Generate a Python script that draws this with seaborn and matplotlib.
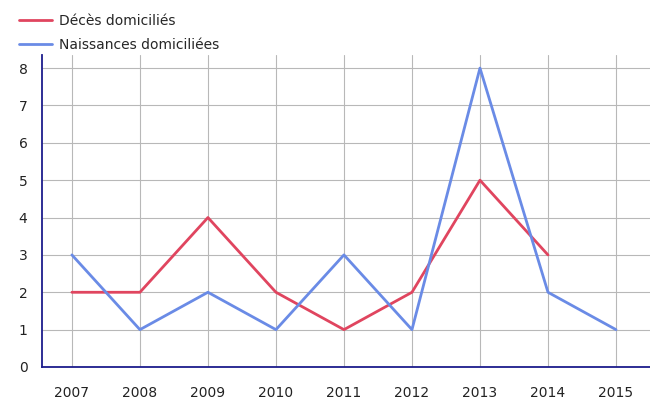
import numpy as np
import pandas as pd
import matplotlib
matplotlib.use('Agg')
import matplotlib.pyplot as plt
import seaborn as sns

# Data
years_deces = [2007, 2008, 2009, 2010, 2011, 2012, 2013, 2014]
deces = [2, 2, 4, 2, 1, 2, 5, 3]
years_naiss = [2007, 2008, 2009, 2010, 2011, 2012, 2013, 2014, 2015]
naissances = [3, 1, 2, 1, 3, 1, 8, 2, 1]

red = '#E0455F'
blue = '#6A8BE6'
navy = '#1C1C8C'

sns.set_style('white')
plt.rcParams['font.family'] = ['DejaVu Sans']

fig = plt.figure(figsize=(6.5, 4.01), dpi=100)
ax = fig.add_axes([0.0646, 0.0848, 0.9354, 0.778])

df_d = pd.DataFrame({'Année': years_deces, 'Valeur': deces})
df_n = pd.DataFrame({'Année': years_naiss, 'Valeur': naissances})
sns.lineplot(data=df_d, x='Année', y='Valeur', color=red, lw=2.0,
    label='Décès domiciliés', ax=ax, zorder=3)
sns.lineplot(data=df_n, x='Année', y='Valeur', color=blue, lw=2.0,
    label='Naissances domiciliées', ax=ax, zorder=4)

ax.set_xlim(2006.56, 2015.5)
ax.set_ylim(0, 8.35)
ax.set_xticks(years_naiss)
ax.set_yticks(range(0, 9))
ax.grid(True, color='#b8b8b8', lw=0.8)
ax.set_xlabel('')
ax.set_ylabel('')
ax.tick_params(axis='both', length=7, color='#909090', labelsize=10,
    colors='#222222', direction='out')
ax.tick_params(axis='x', pad=7)
for s in ['top', 'right']:
    ax.spines[s].set_visible(False)
for s in ['left', 'bottom']:
    ax.spines[s].set_color(navy)
    ax.spines[s].set_linewidth(1.3)

ax.get_legend().remove()
h, l = ax.get_legend_handles_labels()
fig.legend(h, l, loc='upper left', bbox_to_anchor=(0.02, 0.98),
    frameon=False, fontsize=10, handlelength=2.4, handletextpad=0.5,
    labelspacing=0.75, borderaxespad=0)

fig.savefig('out.png', dpi=100)
